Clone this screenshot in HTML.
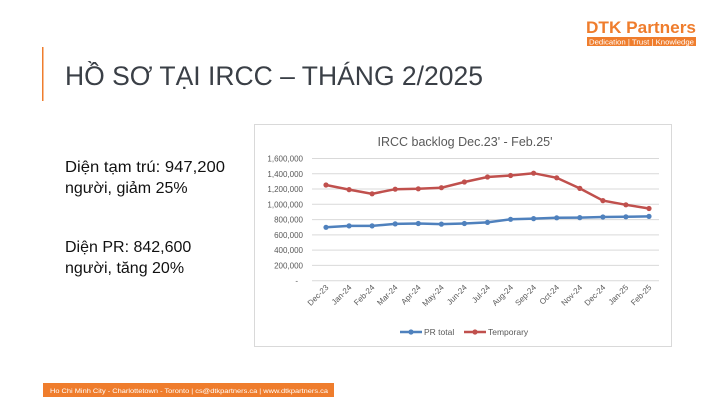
<!DOCTYPE html>
<html><head><meta charset="utf-8"><style>body{margin:0;background:#fff}svg{display:block}</style></head>
<body>
<svg width="724" height="405" viewBox="0 0 724 405" xmlns="http://www.w3.org/2000/svg" font-family="Liberation Sans, sans-serif">
<rect width="724" height="405" fill="#fff"/>
<!-- logo -->
<text x="586" y="33" font-size="17" font-weight="bold" fill="#ef7d2d" textLength="110" lengthAdjust="spacingAndGlyphs">DTK Partners</text>
<rect x="587" y="37" width="109" height="9" fill="#ef7d2d"/>
<text x="589" y="44.5" font-size="7.5" fill="#fff" textLength="105" lengthAdjust="spacingAndGlyphs">Dedication | Trust | Knowledge</text>
<!-- title -->
<rect x="42" y="47" width="1.5" height="54" fill="#ef7d2d"/>
<text x="65" y="85" font-size="27" fill="#3a3f46" textLength="418" lengthAdjust="spacingAndGlyphs">HỒ SƠ TẠI IRCC – THÁNG 2/2025</text>
<!-- body -->
<g font-size="16" fill="#111">
<text x="65" y="172" textLength="160" lengthAdjust="spacingAndGlyphs">Diện tạm trú: 947,200</text>
<text x="65" y="193">người, giảm 25%</text>
<text x="65" y="252">Diện PR: 842,600</text>
<text x="65" y="273">người, tăng 20%</text>
</g>
<!-- chart box -->
<rect x="254.5" y="124.5" width="417" height="222" fill="#fff" stroke="#d9d9d9"/>
<text x="465" y="146" font-size="12.5" fill="#595959" text-anchor="middle">IRCC backlog Dec.23' - Feb.25'</text>
<g stroke="#d9d9d9" stroke-width="1">
<line x1="312" x2="659" y1="158.5" y2="158.5"/><line x1="312" x2="659" y1="173.8" y2="173.8"/>
<line x1="312" x2="659" y1="189" y2="189"/><line x1="312" x2="659" y1="204.3" y2="204.3"/>
<line x1="312" x2="659" y1="219.6" y2="219.6"/><line x1="312" x2="659" y1="234.9" y2="234.9"/>
<line x1="312" x2="659" y1="250.1" y2="250.1"/><line x1="312" x2="659" y1="265.4" y2="265.4"/>
<line x1="312" x2="659" y1="280.7" y2="280.7"/>
</g>
<g font-size="8" fill="#595959" text-anchor="end">
<text x="303" y="161.5">1,600,000</text><text x="303" y="176.8">1,400,000</text>
<text x="303" y="192">1,200,000</text><text x="303" y="207.3">1,000,000</text>
<text x="303" y="222.6">800,000</text><text x="303" y="237.9">600,000</text>
<text x="303" y="253.1">400,000</text><text x="303" y="268.4">200,000</text>
<text x="298" y="283.7">-</text>
</g>
<g font-size="8" fill="#595959" text-anchor="end" id="xl"></g>
<polyline fill="none" stroke="#4f81bd" stroke-width="2.5" points="326,227.3 349.1,225.9 372.1,225.9 395.2,223.9 418.3,223.5 441.4,224.1 464.4,223.5 487.5,222.4 510.6,219.3 533.6,218.6 556.7,217.8 579.8,217.6 602.9,217 625.9,216.8 649,216.4"/>
<polyline fill="none" stroke="#c0504d" stroke-width="2.5" points="326,185 349.1,189.6 372.1,193.8 395.2,189.2 418.3,188.8 441.4,187.7 464.4,182 487.5,177 510.6,175.5 533.6,173.2 556.7,177.8 579.8,188.4 602.9,200.6 625.9,204.8 649,208.5"/>
<g fill="#4f81bd">
<circle cx="326" cy="227.3" r="2.6"/><circle cx="349.1" cy="225.9" r="2.6"/><circle cx="372.1" cy="225.9" r="2.6"/><circle cx="395.2" cy="223.9" r="2.6"/><circle cx="418.3" cy="223.5" r="2.6"/><circle cx="441.4" cy="224.1" r="2.6"/><circle cx="464.4" cy="223.5" r="2.6"/><circle cx="487.5" cy="222.4" r="2.6"/><circle cx="510.6" cy="219.3" r="2.6"/><circle cx="533.6" cy="218.6" r="2.6"/><circle cx="556.7" cy="217.8" r="2.6"/><circle cx="579.8" cy="217.6" r="2.6"/><circle cx="602.9" cy="217" r="2.6"/><circle cx="625.9" cy="216.8" r="2.6"/><circle cx="649" cy="216.4" r="2.6"/>
</g>
<g fill="#c0504d">
<circle cx="326" cy="185" r="2.6"/><circle cx="349.1" cy="189.6" r="2.6"/><circle cx="372.1" cy="193.8" r="2.6"/><circle cx="395.2" cy="189.2" r="2.6"/><circle cx="418.3" cy="188.8" r="2.6"/><circle cx="441.4" cy="187.7" r="2.6"/><circle cx="464.4" cy="182" r="2.6"/><circle cx="487.5" cy="177" r="2.6"/><circle cx="510.6" cy="175.5" r="2.6"/><circle cx="533.6" cy="173.2" r="2.6"/><circle cx="556.7" cy="177.8" r="2.6"/><circle cx="579.8" cy="188.4" r="2.6"/><circle cx="602.9" cy="200.6" r="2.6"/><circle cx="625.9" cy="204.8" r="2.6"/><circle cx="649" cy="208.5" r="2.6"/>
</g>
<g font-size="8" fill="#595959" text-anchor="end">
<text transform="translate(329,288) rotate(-45)">Dec-23</text>
<text transform="translate(352.1,288) rotate(-45)">Jan-24</text>
<text transform="translate(375.1,288) rotate(-45)">Feb-24</text>
<text transform="translate(398.2,288) rotate(-45)">Mar-24</text>
<text transform="translate(421.3,288) rotate(-45)">Apr-24</text>
<text transform="translate(444.4,288) rotate(-45)">May-24</text>
<text transform="translate(467.4,288) rotate(-45)">Jun-24</text>
<text transform="translate(490.5,288) rotate(-45)">Jul-24</text>
<text transform="translate(513.6,288) rotate(-45)">Aug-24</text>
<text transform="translate(536.6,288) rotate(-45)">Sep-24</text>
<text transform="translate(559.7,288) rotate(-45)">Oct-24</text>
<text transform="translate(582.8,288) rotate(-45)">Nov-24</text>
<text transform="translate(605.9,288) rotate(-45)">Dec-24</text>
<text transform="translate(628.9,288) rotate(-45)">Jan-25</text>
<text transform="translate(652,288) rotate(-45)">Feb-25</text>
</g>
<!-- legend -->
<line x1="400" x2="422" y1="332" y2="332" stroke="#4f81bd" stroke-width="2.5"/><circle cx="411" cy="332" r="2.6" fill="#4f81bd"/>
<text x="424" y="335" font-size="8.5" fill="#595959">PR total</text>
<line x1="464" x2="486" y1="332" y2="332" stroke="#c0504d" stroke-width="2.5"/><circle cx="475" cy="332" r="2.6" fill="#c0504d"/>
<text x="488" y="335" font-size="8.5" fill="#595959">Temporary</text>
<!-- footer -->
<rect x="43" y="383" width="291" height="14" fill="#ef7d2d"/>
<text x="50" y="393" font-size="6.5" fill="#fff" textLength="278" lengthAdjust="spacingAndGlyphs">Ho Chi Minh City - Charlottetown - Toronto   |   cs@dtkpartners.ca   |   www.dtkpartners.ca</text>
</svg>
</body></html>
